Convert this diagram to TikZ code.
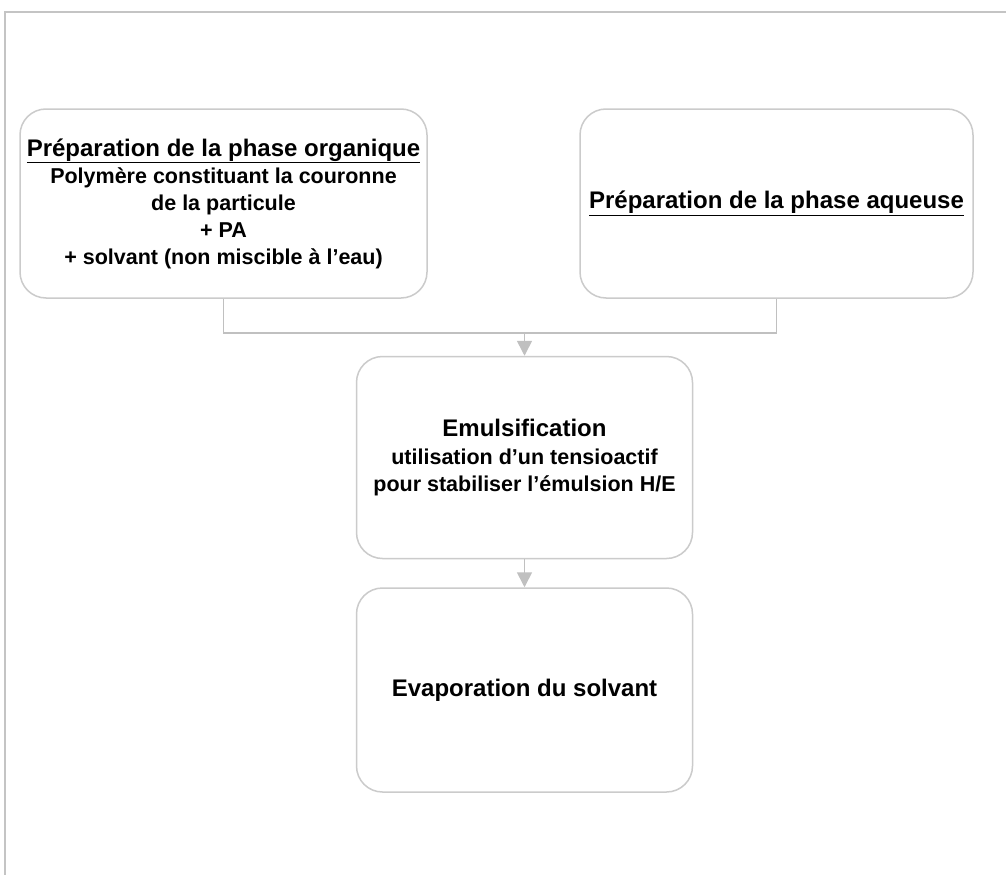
\documentclass[tikz,border=0pt]{standalone}
\usepackage{fontspec}
\setmainfont{Liberation Sans}
\usetikzlibrary{arrows.meta}
\definecolor{framegray}{HTML}{C4C4C4}
\definecolor{boxgray}{HTML}{CBCBCB}
\definecolor{linkgray}{HTML}{C0C0C0}
\tikzset{
  stepbox/.style={draw=boxgray, line width=1.5pt, rounded corners=26pt, fill=white,
    align=center, inner sep=0pt, text=black,
    font=\fontsize{21.5}{27}\selectfont\bfseries},
  link/.style={draw=linkgray, line width=1.6pt},
  arrowlink/.style={link, -{Triangle[width=15pt,length=15pt]}},
}
\newcommand{\ttl}[1]{{\fontsize{24}{27}\selectfont #1}}
\newcommand{\uln}[1]{\underline{#1}}
\begin{document}
\begin{tikzpicture}[x=1pt,y=-1pt]
\useasboundingbox (0,0) rectangle (1006,875);
\fill[white] (0,0) rectangle (1006,875);
\draw[framegray, line width=2pt] (1006,12) -- (5,12) -- (5,875);

\node[stepbox, minimum width=407pt, minimum height=189pt] (L) at (223.5,203.5)
  {\ttl{\uln{Préparation de la phase organique}}\\
   Polymère constituant la couronne\\
   de la particule\\
   + PA\\
   + solvant (non miscible à l’eau)};
\node[stepbox, minimum width=393pt, minimum height=189pt] (R) at (776.5,203.5)
  {\ttl{\uln{Préparation de la phase aqueuse}}};
\node[stepbox, minimum width=336pt, minimum height=202pt] (M) at (524.5,457.5)
  {\ttl{Emulsification}\\[1pt]
   utilisation d’un tensioactif\\
   pour stabiliser l’émulsion H/E};
\node[stepbox, minimum width=336pt, minimum height=204pt] (B) at (524.5,690)
  {\ttl{Evaporation du solvant}};

\coordinate (J) at (524.5,333);
\draw[link] (L.south) |- (J) -| (R.south);
\draw[arrowlink] (J) -- (M.north);
\draw[arrowlink] (M.south) -- (B.north);
\end{tikzpicture}
\end{document}
